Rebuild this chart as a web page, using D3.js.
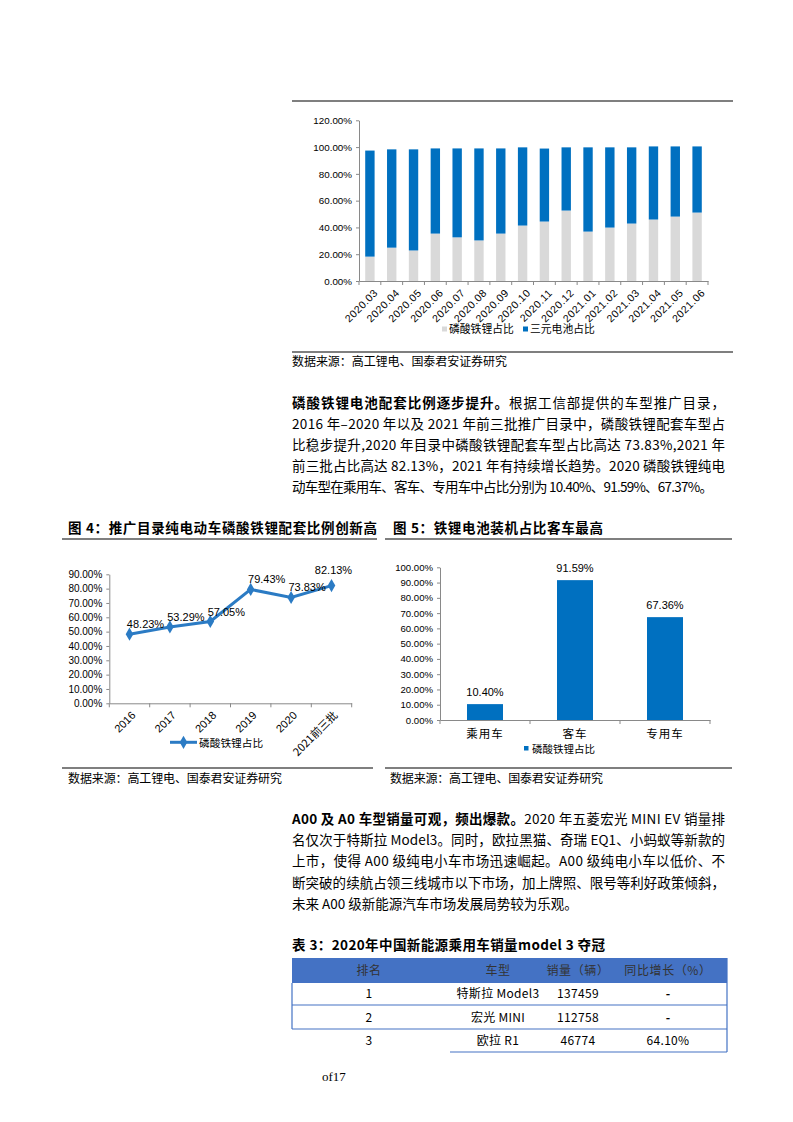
<!DOCTYPE html>
<html>
<head>
<meta charset="utf-8">
<script src="https://cdn.jsdelivr.net/npm/d3@7"></script>
<style>
  body { margin: 0; background: #fff; }
  text { fill: #000; }
  .cjk { font-family: "Noto Sans CJK SC", sans-serif; }
  .lat { font-family: "Liberation Sans", Arial, sans-serif; }
  .axis path, .axis line { stroke: #898989; }
</style>
</head>
<body>
<div id="page"></div>
<script>
// ---- data ----
var months = ["2020.03","2020.04","2020.05","2020.06","2020.07","2020.08","2020.09","2020.10",
              "2020.11","2020.12","2021.01","2021.02","2021.03","2021.04","2021.05","2021.06"];
var lfpShare = [18.2, 24.9, 22.8, 35.4, 32.6, 30.3, 35.4, 41.4, 44.4, 52.6, 36.9, 39.9, 42.9, 45.9, 48.1, 51.1];
var nmcShare = [79.2, 73.4, 75.5, 63.6, 66.4, 68.7, 63.6, 58.4, 54.5, 47.2, 62.9, 59.9, 56.9, 54.6, 52.4, 49.4];
var yTicks1 = [0, 20, 40, 60, 80, 100, 120];

var years = ["2016","2017","2018","2019","2020","2021前三批"];
var lfpCatalog = [48.23, 53.29, 57.05, 79.43, 73.83, 82.13];
var yTicks4 = [0, 10, 20, 30, 40, 50, 60, 70, 80, 90];

var vehicleTypes = ["乘用车","客车","专用车"];
var lfpInstall = [10.40, 91.59, 67.36];
var yTicks5 = [0, 10, 20, 30, 40, 50, 60, 70, 80, 90, 100];

var tableHead = ["排名","车型","销量（辆）","同比增长（%）"];
var rankCol = ["1","2","3"];
var modelCol = ["特斯拉 Model3","宏光 MINI","欧拉 R1"];
var salesCol = ["137459","112758","46774"];
var growthCol = ["-","-","64.10%"];

var para1 = [
  [{t:"磷酸铁锂电池配套比例逐步提升。", b:1}, {t:"根据工信部提供的车型推广目录，"}],
  [{t:"2016 年–2020 年以及 2021 年前三批推广目录中，磷酸铁锂配套车型占"}],
  [{t:"比稳步提升,2020 年目录中磷酸铁锂配套车型占比高达 73.83%,2021 年"}],
  [{t:"前三批占比高达 82.13%，2021 年有持续增长趋势。2020 磷酸铁锂纯电"}],
  [{t:"动车型在乘用车、客车、专用车中占比分别为 10.40%、91.59%、67.37%。"}]
];
var para2 = [
  [{t:"A00 及 A0 车型销量可观，频出爆款。", b:1}, {t:"2020 年五菱宏光 MINI EV 销量排"}],
  [{t:"名仅次于特斯拉 Model3。同时，欧拉黑猫、奇瑞 EQ1、小蚂蚁等新款的"}],
  [{t:"上市，使得 A00 级纯电小车市场迅速崛起。A00 级纯电小车以低价、不"}],
  [{t:"断突破的续航占领三线城市以下市场，加上牌照、限号等利好政策倾斜，"}],
  [{t:"未来 A00 级新能源汽车市场发展局势较为乐观。"}]
];
var sourceText = "数据来源：高工锂电、国泰君安证券研究";

// ---- page ----
var svg = d3.select("#page").append("svg")
  .attr("width", 793).attr("height", 1122)
  .style("background", "#fff");

var blue = "#0070C0", grey = "#D9D9D9", lineBlue = "#2B7BC4";
var pct = function(d) { return d3.format(".2f")(d) + "%"; };

function hline(x1, x2, y, color, w) {
  svg.append("line").attr("x1", x1).attr("x2", x2).attr("y1", y).attr("y2", y)
    .attr("stroke", color || "#000").attr("stroke-width", w || 1);
}
function vline(x, y1, y2, color, w) {
  svg.append("line").attr("x1", x).attr("x2", x).attr("y1", y1).attr("y2", y2)
    .attr("stroke", color || "#000").attr("stroke-width", w || 1);
}
function textLine(x, y, parts, size, width, weight) {
  var t = svg.append("text").attr("class", "cjk")
    .attr("x", x).attr("y", y).style("font-size", size + "px");
  if (weight) t.style("font-weight", weight);
  parts.forEach(function(p) {
    t.append("tspan").text(p.t).style("font-weight", p.b ? 700 : null);
  });
  if (width) t.attr("textLength", width).attr("lengthAdjust", "spacing");
  return t;
}
function styleAxis(g, size) {
  g.attr("class", "axis");
  g.selectAll("text").attr("class", "lat").style("font-size", size + "px").style("fill", "#000");
}

// ================= chart 1: stacked bars =================
hline(292, 733, 101, "#000", 1.2);
var x1 = d3.scaleBand().domain(months).range([359, 708]).paddingInner(0.57).paddingOuter(0.285);
var y1 = d3.scaleLinear().domain([0, 120]).range([281, 120.3]);

var rows1 = months.map(function(m, i) { return {month: m, lfp: lfpShare[i], nmc: nmcShare[i]}; });
var stack1 = d3.stack().keys(["lfp", "nmc"])(rows1);
var colors1 = {lfp: grey, nmc: blue};

svg.append("g").selectAll("g").data(stack1).enter().append("g")
  .attr("fill", function(s) { return colors1[s.key]; })
  .selectAll("rect").data(function(s) { return s; }).enter().append("rect")
  .attr("x", function(d) { return x1(d.data.month); })
  .attr("width", x1.bandwidth())
  .attr("y", function(d) { return y1(d[1]); })
  .attr("height", function(d) { return y1(d[0]) - y1(d[1]); });

svg.append("g").attr("transform", "translate(359,0)")
  .call(d3.axisLeft(y1).tickValues(yTicks1).tickFormat(pct).tickSize(3).tickSizeOuter(0).tickPadding(4))
  .call(styleAxis, 9.8);

var gx1 = svg.append("g").attr("transform", "translate(0,281)")
  .call(d3.axisBottom(x1).tickSize(0).tickSizeOuter(0).tickFormat(function(d) { return d; }))
  .call(styleAxis, 10.5);
gx1.selectAll("text").attr("x", 0).attr("y", 0).attr("dy", "0.35em")
  .attr("letter-spacing", "0.5px")
  .attr("text-anchor", "end").attr("transform", "translate(6,10) rotate(-45)");
gx1.selectAll(".bnd").data(d3.range(months.length + 1)).enter().append("line")
  .attr("x1", function(i) { return 359 + i * x1.step(); })
  .attr("x2", function(i) { return 359 + i * x1.step(); })
  .attr("y1", 0).attr("y2", 4).attr("stroke", "#898989");

var leg1 = [{k: "磷酸铁锂占比", c: grey, x: 442}, {k: "三元电池占比", c: blue, x: 523}];
leg1.forEach(function(l) {
  svg.append("rect").attr("x", l.x).attr("y", 326.5).attr("width", 5).attr("height", 5).attr("fill", l.c);
  svg.append("text").attr("class", "cjk").attr("x", l.x + 7).attr("y", 333)
    .style("font-size", "10.8px").text(l.k);
});
hline(292, 733, 352, "#000", 1.2);
textLine(292, 366, [{t: sourceText}], 12, 215);

// ================= paragraph 1 =================
para1.forEach(function(parts, i) {
  textLine(292, 408 + i * 21, parts, 13.5, i < 4 ? 433 : 421);
});

// ================= chart 4: line =================
textLine(68, 533, [{t: "图 4：推广目录纯电动车磷酸铁锂配套比例创新高"}], 13.5, 309, 700);
hline(62, 377, 539, "#000", 1.2);

var x4 = d3.scaleBand().domain(years).range([109.3, 351.7]);
var y4 = d3.scaleLinear().domain([0, 90]).range([703.3, 574.3]);
var cx4 = function(d) { return x4(d) + x4.bandwidth() / 2; };

svg.append("g").attr("transform", "translate(109.3,0)")
  .call(d3.axisLeft(y4).tickValues(yTicks4).tickFormat(pct).tickSize(3).tickSizeOuter(0).tickPadding(4))
  .call(styleAxis, 10);
var gx4 = svg.append("g").attr("transform", "translate(0,703.3)")
  .call(d3.axisBottom(x4).tickSize(0).tickSizeOuter(0))
  .call(styleAxis, 11);
gx4.selectAll("text").attr("x", 0).attr("y", 0).attr("dy", "0.35em")
  .attr("text-anchor", "end").attr("transform", "translate(4,10) rotate(-45)");
gx4.selectAll("text").filter(function(d) { return /[^\x00-\x7f]/.test(d); }).attr("class", "cjk");
gx4.selectAll(".bnd").data(d3.range(years.length + 1)).enter().append("line")
  .attr("x1", function(i) { return 109.3 + i * x4.step(); })
  .attr("x2", function(i) { return 109.3 + i * x4.step(); })
  .attr("y1", 0).attr("y2", 4).attr("stroke", "#898989");

var pts4 = years.map(function(y, i) { return {year: y, v: lfpCatalog[i]}; });
svg.append("path").datum(pts4)
  .attr("fill", "none").attr("stroke", lineBlue).attr("stroke-width", 3)
  .attr("d", d3.line().x(function(d) { return cx4(d.year); }).y(function(d) { return y4(d.v); }));
var diamond = d3.symbol().type(d3.symbolDiamond).size(50);
svg.append("g").selectAll("path").data(pts4).enter().append("path")
  .attr("d", diamond).attr("fill", lineBlue)
  .attr("transform", function(d) { return "translate(" + cx4(d.year) + "," + y4(d.v) + ")"; });
svg.append("g").selectAll("text").data(pts4).enter().append("text")
  .attr("class", "lat").style("font-size", "11px").attr("text-anchor", "middle")
  .attr("x", function(d, i) { return cx4(d.year) + (i === pts4.length - 1 ? 2 : 16); })
  .attr("y", function(d, i) { return y4(d.v) - (i === pts4.length - 1 ? 12 : 6); })
  .text(function(d) { return pct(d.v); });

svg.append("line").attr("x1", 170).attr("x2", 197).attr("y1", 742.3).attr("y2", 742.3)
  .attr("stroke", lineBlue).attr("stroke-width", 3);
svg.append("path").attr("d", diamond).attr("fill", lineBlue).attr("transform", "translate(183.5,742.3)");
svg.append("text").attr("class", "cjk").attr("x", 199).attr("y", 746.5)
  .style("font-size", "10.7px").text("磷酸铁锂占比");
hline(62, 373, 768, "#000", 1.2);
textLine(68, 782.5, [{t: sourceText}], 12, 214);

// ================= chart 5: bars =================
textLine(393, 533, [{t: "图 5：铁锂电池装机占比客车最高"}], 13.5, 210, 700);
hline(385, 732, 539, "#000", 1.2);

var x5 = d3.scaleBand().domain(vehicleTypes).range([440, 710]).paddingInner(0.6).paddingOuter(0.3);
var y5 = d3.scaleLinear().domain([0, 100]).range([720, 567.3]);

svg.append("g").attr("transform", "translate(440,0)")
  .call(d3.axisLeft(y5).tickValues(yTicks5).tickFormat(pct).tickSize(3).tickSizeOuter(0).tickPadding(4))
  .call(styleAxis, 9.6);
var gx5 = svg.append("g").attr("transform", "translate(0,720)")
  .call(d3.axisBottom(x5).tickSize(0).tickSizeOuter(0).tickPadding(10))
  .call(styleAxis, 11.5);
gx5.selectAll("text").attr("class", "cjk").attr("letter-spacing", "1px");
gx5.selectAll(".bnd").data(d3.range(vehicleTypes.length + 1)).enter().append("line")
  .attr("x1", function(i) { return 440 + i * x5.step(); })
  .attr("x2", function(i) { return 440 + i * x5.step(); })
  .attr("y1", 0).attr("y2", 4).attr("stroke", "#898989");

var rows5 = vehicleTypes.map(function(c, i) { return {cat: c, v: lfpInstall[i]}; });
svg.append("g").selectAll("rect").data(rows5).enter().append("rect")
  .attr("x", function(d) { return x5(d.cat); }).attr("width", x5.bandwidth())
  .attr("y", function(d) { return y5(d.v); })
  .attr("height", function(d) { return 720 - y5(d.v); })
  .attr("fill", blue);
svg.append("g").selectAll("text").data(rows5).enter().append("text")
  .attr("class", "lat").style("font-size", "11px").attr("text-anchor", "middle")
  .attr("x", function(d) { return x5(d.cat) + x5.bandwidth() / 2; })
  .attr("y", function(d) { return y5(d.v) - 8; })
  .text(function(d) { return pct(d.v); });

svg.append("rect").attr("x", 524).attr("y", 746).attr("width", 4.5).attr("height", 4.5).attr("fill", blue);
svg.append("text").attr("class", "cjk").attr("x", 532).attr("y", 752.5)
  .style("font-size", "10.5px").text("磷酸铁锂占比");
hline(385, 732, 768, "#000", 1.2);
textLine(390, 782.5, [{t: sourceText}], 12, 213);

// ================= paragraph 2 =================
para2.forEach(function(parts, i) {
  textLine(292, 824 + i * 21.2, parts, 13.5, i < 4 ? 433 : null);
});

// ================= table 3 =================
textLine(292, 950, [{t: "表 3：2020年中国新能源乘用车销量model 3 夺冠"}], 13.5, 313, 700);
var tblBlue = "#4472C4";
var colX = [369, 498, 578, 668];
svg.append("rect").attr("x", 292).attr("y", 958).attr("width", 435).attr("height", 25).attr("fill", tblBlue);
tableHead.forEach(function(h, i) {
  svg.append("text").attr("class", "cjk").attr("x", colX[i]).attr("y", 975)
    .attr("text-anchor", "middle").style("font-size", "12px").style("fill", "#333")
    .attr("letter-spacing", "0.6px").text(h);
});
var rowY = [997.5, 1021.5, 1044.5];
rankCol.forEach(function(r, i) {
  var cells = [r, modelCol[i], salesCol[i], growthCol[i]];
  cells.forEach(function(c, j) {
    svg.append("text").attr("class", "cjk").attr("x", colX[j]).attr("y", rowY[i])
      .attr("text-anchor", "middle").style("font-size", "12px")
      .style("font-weight", c === "-" ? 700 : null)
      .attr("letter-spacing", "0.3px").text(c);
  });
});
hline(292, 727, 1005, tblBlue, 1.2);
hline(292, 727, 1029, tblBlue, 1.2);
hline(450, 727, 1052, tblBlue, 1.2);
vline(292, 983, 1029, tblBlue, 1.2);
vline(727, 958, 1052, tblBlue, 1.2);

svg.append("text").attr("x", 322).attr("y", 1081)
  .style("font-family", "'Liberation Serif', serif").style("font-size", "13px").text("of17");
</script>
</body>
</html>
